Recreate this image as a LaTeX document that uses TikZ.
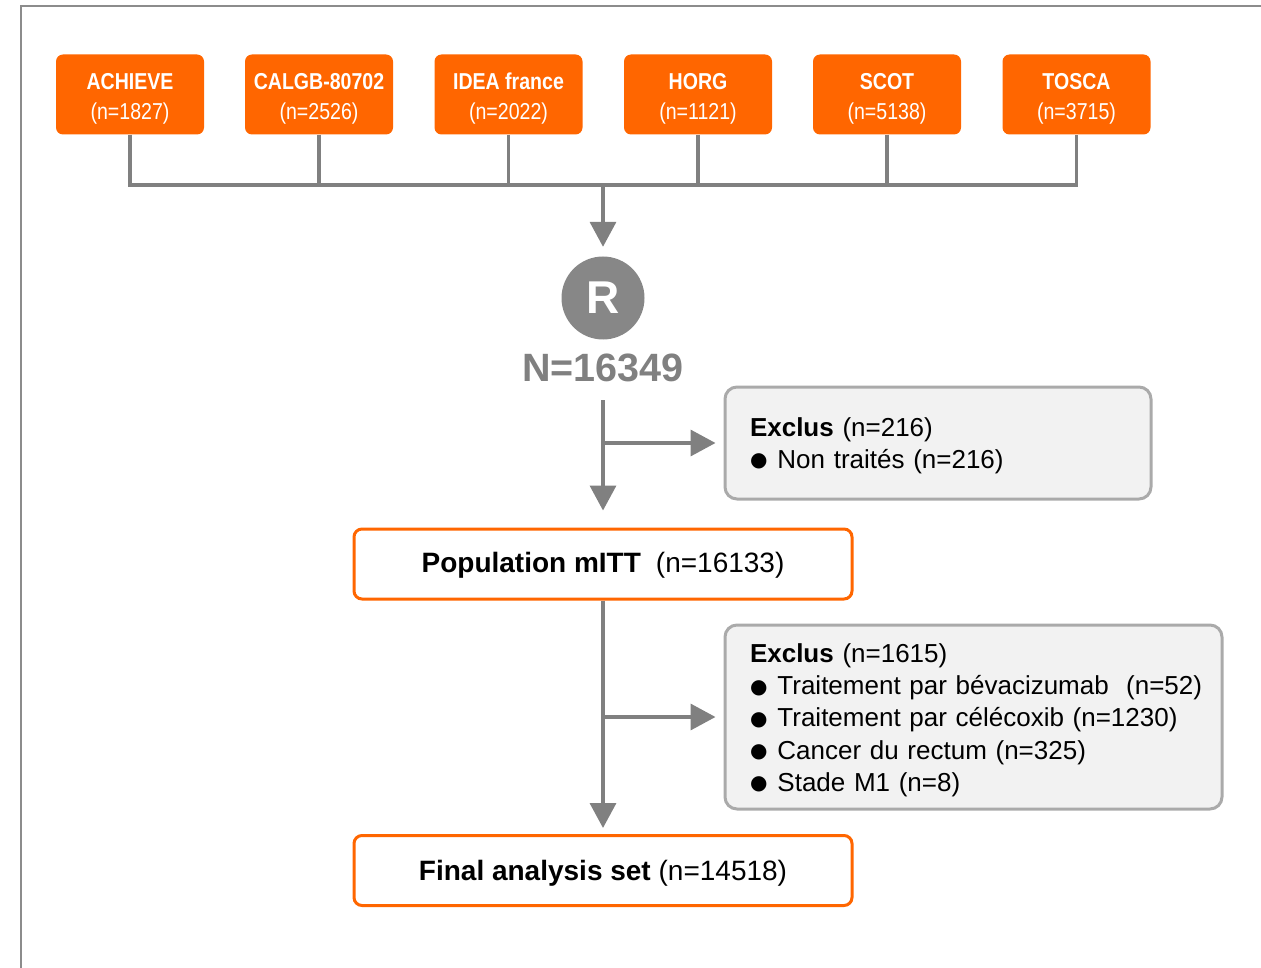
\documentclass[tikz,border=0pt]{standalone}
\usepackage{fontspec}
\setmainfont{Liberation Sans}
\newfontfamily\narrowfont[FakeStretch=0.85]{Liberation Sans}
\newfontfamily\dejavu{DejaVu Sans}
\usetikzlibrary{arrows.meta}
\definecolor{orng}{HTML}{FF6600}
\definecolor{lgray}{HTML}{808080}
\definecolor{framegray}{HTML}{8C8C8C}
\definecolor{boxgray}{HTML}{F2F2F2}
\definecolor{bordergray}{HTML}{AAAAAA}
\definecolor{rgray}{HTML}{878787}
\newcommand{\blt}{\raisebox{1.5pt}{\dejavu\fontsize{20}{20}\selectfont ●}\hspace{10pt}}
\newcommand{\topstrut}[1]{\rule{0pt}{#1}}
\newcommand{\botstrut}[1]{\rule[-#1]{0pt}{#1}}
\tikzset{
  trial/.style={rectangle, rounded corners=7pt, fill=orng, text=white, minimum width=148pt, minimum height=80pt, inner sep=0pt, align=center, font=\narrowfont\fontsize{23}{30}\selectfont},
  popbox/.style={rectangle, rounded corners=8pt, draw=orng, line width=3pt, fill=white, minimum width=498pt, minimum height=70pt, inner sep=0pt, align=center, font=\fontsize{28}{32}\selectfont},
  exbox/.style={rectangle, rounded corners=12pt, draw=bordergray, line width=3pt, fill=boxgray, inner sep=0pt, align=left, font=\fontsize{26}{32.3}\selectfont},
  conn/.style={draw=lgray, line width=3.5pt},
  arr/.style={conn, -{Triangle[length=25pt, width=26pt]}},
}
\begin{document}
\begin{tikzpicture}[x=1pt, y=-1pt]
\useasboundingbox (0,0) rectangle (1261,968);
\draw[draw=framegray, line width=2pt] (21,968) -- (21,6) -- (1262,6);

\node[trial] (t1) at (130,94.5) {\topstrut{25pt}\textbf{ACHIEVE}\\(n=1827)\botstrut{5pt}};
\node[trial] (t2) at (319,94.5) {\topstrut{25pt}\textbf{CALGB-80702}\\(n=2526)\botstrut{5pt}};
\node[trial] (t3) at (508.5,94.5) {\topstrut{25pt}\textbf{IDEA france}\\(n=2022)\botstrut{5pt}};
\node[trial] (t4) at (698,94.5) {\topstrut{25pt}\textbf{HORG}\\(n=1121)\botstrut{5pt}};
\node[trial] (t5) at (887,94.5) {\topstrut{25pt}\textbf{SCOT}\\(n=5138)\botstrut{5pt}};
\node[trial] (t6) at (1076.5,94.5) {\topstrut{25pt}\textbf{TOSCA}\\(n=3715)\botstrut{5pt}};

\coordinate (j1) at (130,185);
\coordinate (j6) at (1076.5,185);
\coordinate (jm) at (603,185);
\draw[conn] (t1.south) -- (j1) -- (j6) -- (t6.south);
\draw[conn] (t2.south) -- (t2.south |- jm);
\draw[conn] (t3.south) -- (t3.south |- jm);
\draw[conn] (t4.south) -- (t4.south |- jm);
\draw[conn] (t5.south) -- (t5.south |- jm);

\node[circle, fill=rgray, minimum size=83pt, inner sep=0pt, text=white, font=\bfseries\fontsize{46}{46}\selectfont] (R) at (603,298) {R};
\draw[arr] (jm) -- ([yshift=9.5pt]R.north);

\node[text=lgray, font=\bfseries\fontsize{39.5}{40}\selectfont, inner sep=0pt] (N) at (603,368) {N=16349};

\node[popbox, text height=23.4pt, text depth=6pt] (pop) at (603,564) {\textbf{Population mITT}\hspace{15pt}(n=16133)};
\node[popbox, text height=25pt, text depth=6pt] (fin) at (603,870.5) {\textbf{Final analysis set} (n=14518)};

\node[exbox, minimum width=426pt, minimum height=112pt, text width=376pt] (ex1) at (938,443) {\topstrut{24pt}\textbf{Exclus} (n=216)\\\mbox{\blt Non traités (n=216)}\botstrut{5.7pt}};
\node[exbox, minimum width=497pt, minimum height=184pt, text width=447pt] (ex2) at (973.5,717) {\topstrut{25pt}\textbf{Exclus} (n=1615)\\\mbox{\blt Traitement par bévacizumab\ \ (n=52)}\\\mbox{\blt Traitement par célécoxib (n=1230)}\\\mbox{\blt Cancer du rectum (n=325)}\\\mbox{\blt Stade M1 (n=8)}\botstrut{5.2pt}};

\coordinate (s1) at (603,400);
\coordinate (b1) at (603,443);
\draw[arr] (s1) -- ([yshift=17pt]pop.north);
\draw[arr] (b1) -- ([xshift=-8pt]ex1.west |- b1);

\coordinate (b2) at (603,717);
\draw[arr] (pop.south) -- ([yshift=6pt]fin.north);
\draw[arr] (b2) -- ([xshift=-8pt]ex2.west |- b2);
\end{tikzpicture}
\end{document}
